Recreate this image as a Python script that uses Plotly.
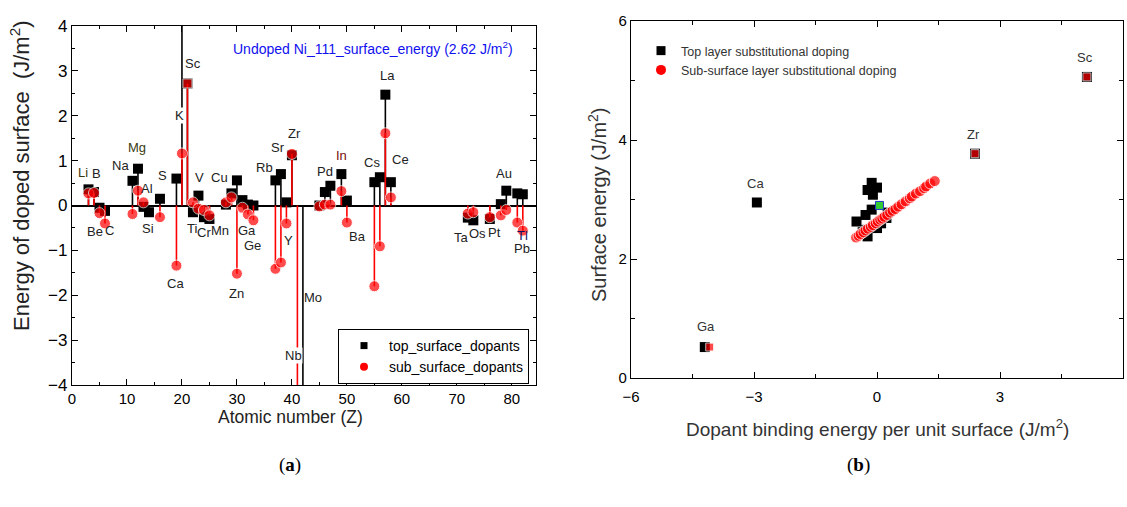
import plotly.graph_objects as go

W, H = 1127, 507

# ---------------- Panel (a) data ----------------
z = [3, 4, 5, 6, 11, 12, 13, 14, 16, 19, 20, 21, 22, 23, 24, 25, 28, 29, 30, 31, 32, 33,
     37, 38, 39, 40, 41, 42, 45, 46, 47, 49, 50, 55, 56, 57, 58, 72, 73, 76, 78, 79, 81, 82]
top_energy = [0.36, 0.30, -0.05, -0.12, 0.55, 0.82, -0.03, -0.15, 0.15, 0.60, 4.5, 2.72,
              -0.15, 0.22, -0.26, -0.30, 0.02, 0.27, 0.56, 0.12, 0.02, 0.00,
              0.56, 0.70, 0.07, 1.12, None, -4.5, 0.00, 0.30, 0.44, 0.70, 0.11,
              0.52, 0.63, 2.47, 0.52, -0.27, -0.33, -0.30, 0.03, 0.33, 0.27, 0.25]
sub_energy = [0.27, 0.28, -0.17, -0.40, -0.19, 0.33, 0.07, None, -0.26, -1.34, 1.16, 2.72,
              0.07, -0.07, -0.10, -0.22, 0.07, 0.18, -1.52, -0.05, -0.20, -0.33,
              -1.41, -1.27, -0.40, 1.15, -4.5, None, -0.02, 0.02, 0.02, 0.32, -0.38,
              -1.80, -0.91, 1.61, 0.18, -0.18, -0.15, -0.26, -0.22, -0.10, -0.38, -0.56]

a_labels = ["Li", "B", "Be", "C", "Na", "Mg", "Al", "Si", "S", "K", "Sc", "Ca", "Ti", "Cr",
            "V", "Mn", "Cu", "Zn", "Ga", "Ge", "Rb", "Sr", "Zr", "Y", "Mo", "Nb", "Pd", "In",
            "Ba", "Cs", "La", "Ce", "Ta", "Os", "Pt", "Au", "Tl", "Pb"]
a_label_z = [2.0, 4.4, 4.2, 6.9, 8.9, 11.8, 13.6, 13.8, 16.4, 19.6, 22.0, 18.9, 21.8, 24.0,
             23.1, 26.9, 26.9, 30.0, 31.8, 32.9, 35.1, 37.5, 40.4, 39.3, 43.8, 40.2, 46.0, 49.1,
             52.0, 54.5, 57.3, 59.8, 70.9, 73.8, 76.9, 78.5, 82.0, 81.8]
a_label_v = [0.73, 0.71, -0.58, -0.56, 0.89, 1.29, 0.38, -0.51, 0.67, 2.0, 3.16, -1.74, -0.51, -0.60,
             0.62, -0.56, 0.62, -1.96, -0.56, -0.89, 0.85, 1.29, 1.60, -0.78, -2.05, -3.34, 0.76, 1.11,
             -0.69, 0.96, 2.90, 1.02, -0.71, -0.62, -0.60, 0.71, -0.67, -0.96]

# ---------------- Panel (b) data ----------------
b_top_x = [-2.93, -4.20, 5.12, 2.39, -0.13, 0.00, -0.23, -0.10, -0.50, -0.28, -0.26, -0.23,
           0.00, 0.23, 0.26, -0.35, 0.10, -0.13]
b_top_y = [2.95, 0.52, 5.06, 3.77, 3.28, 3.20, 3.16, 3.08, 2.63, 2.74, 2.49, 2.38,
           2.52, 2.69, 2.78, 2.45, 2.60, 2.83]
b_sub_x = [-4.08, 5.12, 2.39, -0.51, -0.45, -0.40, -0.33, -0.28, -0.22, -0.15, -0.10, -0.03,
           0.02, 0.08, 0.13, 0.18, 0.25, 0.32, 0.38, 0.45, 0.52, 0.60, 0.70, 0.80, 0.85,
           0.95, 1.05, 1.15, 1.20, 1.30, 1.41]
b_sub_y = [0.52, 5.06, 3.77, 2.36, 2.39, 2.42, 2.45, 2.48, 2.51, 2.54, 2.57, 2.60,
           2.63, 2.66, 2.68, 2.71, 2.74, 2.78, 2.81, 2.84, 2.88, 2.92, 2.97, 3.02, 3.05,
           3.10, 3.14, 3.19, 3.22, 3.27, 3.31]
b_ref_x = [0.06]
b_ref_y = [2.90]
b_labels = ["Sc", "Zr", "Ca", "Ga"]
b_label_x = [5.08, 2.36, -2.97, -4.16]
b_label_y = [5.39, 4.09, 3.27, 0.86]

SANS = "Liberation Sans, Arial, sans-serif"


def px_x(p):
    return p / W


def px_y(p):
    return 1 - p / H


def stems(xs, ys):
    sx, sy = [], []
    for xv, yv in zip(xs, ys):
        if yv is None:
            continue
        sx += [xv, xv, None]
        sy += [0, yv, None]
    return sx, sy


fig = go.Figure()

# stems + markers panel (a)
tx, ty = stems(z, top_energy)
fig.add_trace(go.Scatter(x=tx, y=ty, mode="lines", line=dict(color="black", width=1.6),
                         showlegend=False, hoverinfo="skip", xaxis="x", yaxis="y"))
fig.add_trace(go.Scatter(x=z, y=top_energy, mode="markers",
                         marker=dict(symbol="square", size=10, color="black"),
                         showlegend=False, xaxis="x", yaxis="y"))
sx, sy = stems(z, sub_energy)
fig.add_trace(go.Scatter(x=sx, y=sy, mode="lines", line=dict(color="red", width=1.6),
                         showlegend=False, hoverinfo="skip", xaxis="x", yaxis="y"))
fig.add_trace(go.Scatter(x=z, y=sub_energy, mode="markers",
                         marker=dict(symbol=["square" if zz == 21 else "circle" for zz in z],
                                     size=[9 if zz == 21 else 11 for zz in z], color="red"),
                         showlegend=False, xaxis="x", yaxis="y"))
# legend entries panel (a)
fig.add_trace(go.Scatter(x=[None], y=[None], mode="markers", name="top_surface_dopants",
                         marker=dict(symbol="square", size=7, color="black"),
                         legend="legend", xaxis="x", yaxis="y"))
fig.add_trace(go.Scatter(x=[None], y=[None], mode="markers", name="sub_surface_dopants",
                         marker=dict(symbol="circle", size=8, color="red"),
                         legend="legend", xaxis="x", yaxis="y"))

# panel (b)
fig.add_trace(go.Scatter(x=b_top_x, y=b_top_y, mode="markers",
                         marker=dict(symbol="square", size=10, color="black"),
                         showlegend=False, xaxis="x2", yaxis="y2"))
fig.add_trace(go.Scatter(x=b_sub_x, y=b_sub_y, mode="markers",
                         marker=dict(symbol=["square" if abs(v) > 2 else "circle" for v in b_sub_x],
                                     size=[8 if abs(v) > 2 else 11 for v in b_sub_x], color="red"),
                         showlegend=False, xaxis="x2", yaxis="y2"))
fig.add_trace(go.Scatter(x=b_ref_x, y=b_ref_y, mode="markers",
                         marker=dict(symbol="square", size=8, color="#33cc33",
                                     line=dict(color="#2233cc", width=1)),
                         showlegend=False, xaxis="x2", yaxis="y2"))
fig.add_trace(go.Scatter(x=[None], y=[None], mode="markers", name="Top layer substitutional doping",
                         marker=dict(symbol="square", size=9, color="black"),
                         legend="legend2", xaxis="x2", yaxis="y2"))
fig.add_trace(go.Scatter(x=[None], y=[None], mode="markers", name="Sub-surface layer substitutional doping",
                         marker=dict(symbol="circle", size=10, color="red"),
                         legend="legend2", xaxis="x2", yaxis="y2"))

axis_common = dict(showline=True, linecolor="black", linewidth=1.2, mirror="ticks",
                   ticks="inside", tickcolor="black", showgrid=False, automargin=False)

annotations = []
for lab, lz, lv in zip(a_labels, a_label_z, a_label_v):
    col = "#222222"
    if lab == "In":
        col = "#7a0a0a"
    elif lab == "Tl":
        col = "#101060"
    elif lab in ("Li", "Mg"):
        col = "#3a3a10"
    ann = dict(x=lz, y=lv, xref="x", yref="y", text=lab, showarrow=False,
               xanchor="center", yanchor="middle",
               font=dict(family=SANS, size=13, color=col))
    if lab in ("K", "Nb"):
        ann["bgcolor"] = "white"
        ann["borderpad"] = 0
    annotations.append(ann)

for lab, lx, ly in zip(b_labels, b_label_x, b_label_y):
    annotations.append(dict(x=lx, y=ly, xref="x2", yref="y2", text=lab, showarrow=False,
                            xanchor="center", yanchor="middle",
                            font=dict(family=SANS, size=13, color="#333333")))


def paper_text(px, py, text, size, color="#222222", family=SANS, angle=0):
    return dict(x=px_x(px), y=px_y(py), xref="paper", yref="paper", showarrow=False,
                xanchor="center", yanchor="middle", textangle=angle, text=text,
                font=dict(family=family, size=size, color=color))


annotations += [
    paper_text(373, 48, "Undoped Ni_111_surface_energy (2.62 J/m<sup>2</sup>)", 14, "#1010ee"),
    paper_text(20, 176, "Energy of doped surface \u00a0(J/m<sup>2</sup>)", 22, angle=-90),
    paper_text(290, 417, "Atomic number (Z)", 17.5),
    paper_text(597, 205, "Surface energy (J/m<sup>2</sup>)", 20, "#333333", angle=-90),
    paper_text(877, 428, "Dopant binding energy per unit surface (J/m<sup>2</sup>)", 19, "#333333"),
    paper_text(290, 465, "(<b>a</b>)", 19, "black", family="Liberation Serif, serif"),
    paper_text(858, 465, "(<b>b</b>)", 19, "black", family="Liberation Serif, serif"),
]

fig.update_layout(
    width=W, height=H, autosize=False,
    margin=dict(l=0, r=0, t=0, b=0, pad=0, autoexpand=False),
    paper_bgcolor="white", plot_bgcolor="white",
    xaxis=dict(domain=[px_x(72), px_x(536)], range=[0, 84.4], tick0=0, dtick=10, ticklen=6,
               minor=dict(dtick=5, ticklen=3, ticks="inside", tickcolor="black"),
               zeroline=False, anchor="y",
               tickfont=dict(family=SANS, size=15, color="black"), **axis_common),
    yaxis=dict(domain=[px_y(385), px_y(26)], range=[-4, 4], tick0=0, dtick=1, ticklen=6,
               minor=dict(dtick=0.5, ticklen=3, ticks="inside", tickcolor="black"),
               zeroline=True, zerolinecolor="black", zerolinewidth=1.5, anchor="x",
               tickfont=dict(family=SANS, size=17, color="black"), **axis_common),
    xaxis2=dict(domain=[px_x(631), px_x(1123)], range=[-6, 6], tick0=0, dtick=3, ticklen=6,
                minor=dict(dtick=1.5, ticklen=4, ticks="inside", tickcolor="black"),
                zeroline=False, anchor="y2", ticklabelstandoff=5,
                tickfont=dict(family=SANS, size=15, color="black"), **axis_common),
    yaxis2=dict(domain=[px_y(378), px_y(21)], range=[0, 6], tick0=0, dtick=2, ticklen=6,
                minor=dict(dtick=1, ticklen=4, ticks="inside", tickcolor="black"),
                zeroline=False, anchor="x2",
                tickfont=dict(family=SANS, size=15, color="black"), **axis_common),
    legend=dict(x=px_x(338), y=px_y(329), xanchor="left", yanchor="top",
                bgcolor="white", bordercolor="black", borderwidth=1, tracegroupgap=0,
                font=dict(family=SANS, size=14, color="black"), itemwidth=40),
    legend2=dict(x=px_x(641), y=px_y(36), xanchor="left", yanchor="top",
                 bgcolor="rgba(0,0,0,0)", borderwidth=0,
                 font=dict(family=SANS, size=12.5, color="#333333"), itemwidth=30),
    annotations=annotations,
    showlegend=True,
)

fig.write_html("out.html", config={"displayModeBar": False},
               post_script="document.body.style.margin='0px';")
